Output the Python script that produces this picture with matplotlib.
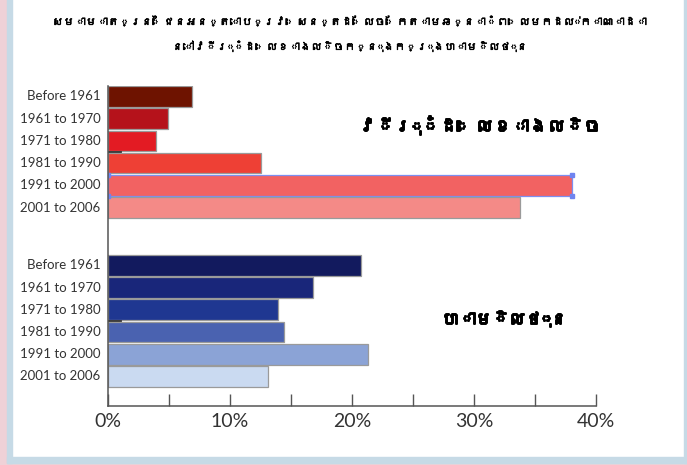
import matplotlib
matplotlib.use("Agg")
import matplotlib.pyplot as plt
import matplotlib.patheffects as pe
from matplotlib import font_manager
from matplotlib.font_manager import FontProperties
from matplotlib.ft2font import FT2Font
from matplotlib.patches import Rectangle

# Data
periods = ["Before 1961", "1961 to 1970", "1971 to 1980",
           "1981 to 1990", "1991 to 2000", "2001 to 2006"]
west_vals = [6.9, 4.9, 3.9, 12.5, 38.0, 33.8]
hamilton_vals = [20.7, 16.8, 13.9, 14.4, 21.3, 13.1]
west_colors = ["#6E1300", "#B5121B", "#E31B23", "#EE4035", "#F26262", "#F48A87"]
hamilton_colors = ["#121A5E", "#19267A", "#1F3791", "#4A62B0", "#8BA3D6", "#CADAF1"]

title1 = "សមាមាត្រនៃជនអន្តោប្រវេសន្តដែលចែកតាមឆ្នាំពេលមកដល់កាណាដា"
title2 = "នៅវីរុំដេលខាងលិចក្នុងក្រុងហាមិលថុន"
west_name = "វីរុំដេលខាងលិច"
hamilton_name = "ហាមិលថុន"
xticks = [0, 10, 20, 30, 40]
xtick_labels = ["0%", "10%", "20%", "30%", "40%"]


# find a font that can show Khmer, if there is one
def find_font(ch):
    for f in font_manager.findSystemFonts():
        try:
            if ord(ch) in FT2Font(f).get_charmap():
                return f
        except Exception:
            pass
    return None


kh_file = find_font("ក")
if kh_file:
    kh_font = FontProperties(fname=kh_file)
else:
    kh_font = FontProperties(family=["Noto Sans", "DejaVu Sans"])

fig = plt.figure(figsize=(6.87, 4.65), dpi=100)
fig.patch.set_facecolor("white")

# frame strips round the picture
pink = "#EFD1D7"
blue = "#C6DAE6"
fig.patches.append(Rectangle((0, 0), 7 / 687, 1, transform=fig.transFigure, color=pink, zorder=0))
fig.patches.append(Rectangle((0, 0), 1, 2 / 465, transform=fig.transFigure, color=pink, zorder=0))
fig.patches.append(Rectangle((7 / 687, 2 / 465), 5 / 687, 1, transform=fig.transFigure, color=blue, zorder=0))
fig.patches.append(Rectangle((7 / 687, 2 / 465), 1, 6 / 465, transform=fig.transFigure, color=blue, zorder=0))
fig.patches.append(Rectangle((684 / 687, 2 / 465), 3 / 687, 1, transform=fig.transFigure, color=blue, zorder=0))

ax = fig.add_axes([108 / 687, 1 - 406 / 465, 488 / 687, 320 / 465])
ax.set_facecolor("none")

west_pos = [0, 1, 2, 3, 4, 5]
ham_pos = [p + 7.6 for p in west_pos]

edges = ["#9A9A9A"] * 6
edges_w = list(edges)
edges_w[4] = "#7D8FF0"
ax.barh(west_pos, west_vals, height=0.93, color=west_colors, edgecolor=edges_w, linewidth=0.9)
ax.barh(ham_pos, hamilton_vals, height=0.93, color=hamilton_colors, edgecolor=edges, linewidth=0.9)

# little handle squares on the selected bar
ax.plot([0, 0, west_vals[4], west_vals[4]], [3.54, 4.46, 3.54, 4.46], "s",
        color="#6F84F0", markersize=2.5)

# small dark marks left in the source
ax.plot([0, 1.05], [2.5, 2.5], color="#333333", lw=1.3)
ax.plot([0, 1.05], [ham_pos[2] + 0.5, ham_pos[2] + 0.5], color="#333333", lw=1.3)

for p, lab in zip(west_pos + ham_pos, periods + periods):
    ax.text(-0.6, p, lab, ha="right", va="center", fontsize=9.5,
            family="Lato", color="#333333")

ax.set_xlim(0, 40)
ax.set_ylim(13.93, -0.47)
ax.set_yticks([])
ax.set_xticks(xticks)
ax.set_xticklabels(xtick_labels, family="Lato", fontsize=14, color="#333333")
ax.set_xticks([5, 15, 25, 35], minor=True)
ax.tick_params(axis="x", which="both", direction="in", length=9, width=1,
               color="#555555", pad=5)

for s in ["top", "right"]:
    ax.spines[s].set_visible(False)
for s in ["left", "bottom"]:
    ax.spines[s].set_color("#555555")
    ax.spines[s].set_linewidth(1.1)

# fake bold for the Khmer text
thin = [pe.withStroke(linewidth=0.45, foreground="black")]
heavy = [pe.withStroke(linewidth=1.4, foreground="black")]

fig.text(350 / 687, 1 - 21 / 465, title1, ha="center", va="center",
         fontproperties=kh_font, fontsize=8, fontweight="bold", path_effects=thin)
fig.text(350 / 687, 1 - 46 / 465, title2, ha="center", va="center",
         fontproperties=kh_font, fontsize=8, fontweight="bold", path_effects=thin)
ax.text(20.5, 1.3, west_name, ha="left", va="center",
        fontproperties=kh_font, fontsize=13, fontweight="bold", path_effects=heavy)
ax.text(27.4, 10.0, hamilton_name, ha="left", va="center",
        fontproperties=kh_font, fontsize=12, fontweight="bold", path_effects=heavy)

fig.savefig("out.png", dpi=100)
